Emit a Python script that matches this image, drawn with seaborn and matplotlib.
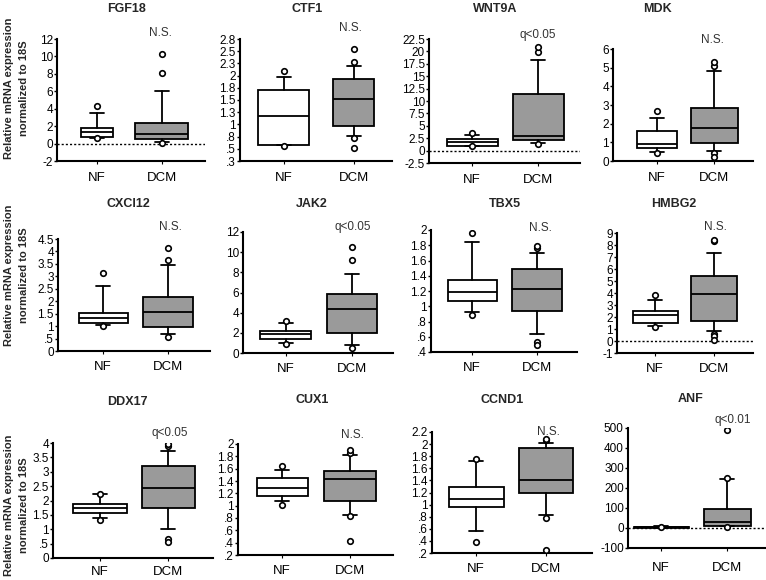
import matplotlib
matplotlib.use("Agg")
import matplotlib.pyplot as plt
import seaborn as sns
import pandas as pd

# ---------------- data ----------------
genes = ["FGF18", "CTF1", "WNT9A", "MDK",
         "CXCl12", "JAK2", "TBX5", "HMBG2",
         "DDX17", "CUX1", "CCND1", "ANF"]
annotations = ["N.S.", "N.S.", "q<0.05", "N.S.",
               "N.S.", "q<0.05", "N.S.", "N.S.",
               "q<0.05", "N.S.", "N.S.", "q<0.01"]
groups = ["NF", "DCM"]

# box summaries (10th pct, Q1, median, Q3, 90th pct)
nf_low = [0.65, 0.57, 0.9, 0.5, 1.05, 0.98, 0.93, 1.28, 1.38, 1.07, 0.57, 1]
nf_q1 = [0.8, 0.58, 0.95, 0.68, 1.14, 1.38, 1.07, 1.5, 1.55, 1.15, 0.96, 2]
nf_med = [1.3, 1.18, 1.76, 0.91, 1.34, 1.9, 1.19, 2.14, 1.73, 1.28, 1.09, 4]
nf_q3 = [1.84, 1.71, 2.4, 1.61, 1.52, 2.2, 1.34, 2.47, 1.88, 1.45, 1.29, 6]
nf_high = [3.5, 1.97, 3.24, 2.29, 2.62, 3.02, 1.84, 3.44, 2.22, 1.58, 1.72, 8]
nf_outliers = [[4.3, 0.6], [2.1, 0.55], [3.6, 0.85], [2.68, 0.41],
               [3.13, 1.0], [3.2, 0.9], [1.96, 0.88], [3.86, 1.14],
               [2.23, 1.32], [1.65, 1.01], [1.75, 0.39], [6]]

dcm_low = [0.2, 0.76, 1.55, 0.55, 0.68, 0.82, 0.63, 0.81, 1.0, 0.85, 0.82, 10]
dcm_q1 = [0.5, 0.97, 2.1, 0.95, 0.95, 2.03, 0.94, 1.64, 1.75, 1.08, 1.2, 12]
dcm_med = [1.1, 1.52, 2.9, 1.79, 1.58, 4.34, 1.22, 3.92, 2.45, 1.43, 1.41, 32]
dcm_q3 = [2.4, 1.94, 11.4, 2.86, 2.17, 5.82, 1.49, 5.44, 3.21, 1.57, 1.93, 95]
dcm_high = [6.0, 2.2, 18.3, 4.84, 3.47, 7.82, 1.70, 7.33, 3.73, 1.82, 2.02, 243]
dcm_outliers = [[8.1, 10.3, 0.05], [2.28, 2.55, 0.72, 0.52], [19.9, 20.9, 1.3],
                [5.1, 5.3, 0.41, 0.23], [3.67, 4.14, 0.58], [9.2, 10.5, 0.5],
                [1.76, 1.79, 0.53, 0.49], [8.3, 8.44, 0.61, 0.39, 0.11],
                [3.91, 3.97, 0.67, 0.56], [1.85, 1.9, 0.84, 0.42],
                [2.06, 2.09, 0.78, 0.25], [251, 490, 7]]

y_ticks = [
    [-2, 0, 2, 4, 6, 8, 10, 12],
    [0.25, 0.5, 0.75, 1, 1.25, 1.5, 1.75, 2, 2.25, 2.5, 2.75],
    [-2.5, 0, 2.5, 5, 7.5, 10, 12.5, 15, 17.5, 20, 22.5],
    [0, 1, 2, 3, 4, 5, 6],
    [0, 0.5, 1, 1.5, 2, 2.5, 3, 3.5, 4, 4.5],
    [0, 2, 4, 6, 8, 10, 12],
    [0.4, 0.6, 0.8, 1, 1.2, 1.4, 1.6, 1.8, 2],
    [-1, 0, 1, 2, 3, 4, 5, 6, 7, 8, 9],
    [0, 0.5, 1, 1.5, 2, 2.5, 3, 3.5, 4],
    [0.2, 0.4, 0.6, 0.8, 1, 1.2, 1.4, 1.6, 1.8, 2],
    [0.2, 0.4, 0.6, 0.8, 1, 1.2, 1.4, 1.6, 1.8, 2, 2.2],
    [-100, 0, 100, 200, 300, 400, 500],
]
y_tick_labels = [
    ["-2", "0", "2", "4", "6", "8", "10", "12"],
    [".3", ".5", ".8", "1", "1.3", "1.5", "1.8", "2", "2.3", "2.5", "2.8"],
    ["-2.5", "0", "2.5", "5", "7.5", "10", "12.5", "15", "17.5", "20", "22.5"],
    ["0", "1", "2", "3", "4", "5", "6"],
    ["0", ".5", "1", "1.5", "2", "2.5", "3", "3.5", "4", "4.5"],
    ["0", "2", "4", "6", "8", "10", "12"],
    [".4", ".6", ".8", "1", "1.2", "1.4", "1.6", "1.8", "2"],
    ["-1", "0", "1", "2", "3", "4", "5", "6", "7", "8", "9"],
    ["0", ".5", "1", "1.5", "2", "2.5", "3", "3.5", "4"],
    [".2", ".4", ".6", ".8", "1", "1.2", "1.4", "1.6", "1.8", "2"],
    [".2", ".4", ".6", ".8", "1", "1.2", "1.4", "1.6", "1.8", "2", "2.2"],
    ["-100", "0", "100", "200", "300", "400", "500"],
]
zero_line = [True, False, True, False, False, False, False, True, False, False, False, True]
y_label = "Relative mRNA expression\nnormalized to 18S"

# ---------------- layout (pixels) ----------------
W, H = 766, 580
# axes: x0, x1, y_top, y_bottom
axes_px = [
    (57, 205, 39, 161), (240, 392, 39, 161), (429, 580, 39, 163), (613, 753, 49, 161),
    (58, 210, 239, 351), (243, 393, 232, 353), (431, 577, 230, 352), (617, 753, 233, 353),
    (53, 213, 443, 558), (238, 393, 444, 555), (432, 592, 432, 553), (628, 765, 428, 548),
]
# box centres and widths: nf_c, nf_w, dcm_c, dcm_w
box_px = [
    (97, 32, 161.5, 53), (283.5, 51, 353.5, 41), (472, 51, 538, 51), (657, 40, 714, 47),
    (103, 49, 168, 50), (286, 51, 352, 50), (472, 49, 537, 50), (655, 45, 714, 46),
    (100, 54, 168, 53), (282, 51, 350, 52), (476, 55, 546, 54), (661, 55, 727, 47),
]
title_px = [(127, 9), (307, 9), (495, 9), (657, 9),
            (128, 204), (312, 204), (505, 204), (674, 204),
            (127, 402), (312, 400), (502, 400), (691, 399)]
annot_px = [(160, 33), (350, 28), (538, 35), (712, 40),
            (170, 227), (353, 227), (540, 228), (715, 227),
            (170, 433), (352, 435), (548, 432), (733, 420)]
ylabel_py = [88, 275, 505]
xtick_pad = [6, 6, 6, 6, 5, 5, 5, 5, 3.5, 5, 5, 8]

sns.set_theme(style="ticks")
plt.rcParams["font.family"] = ["Liberation Sans Narrow", "Liberation Sans", "DejaVu Sans"]

fig = plt.figure(figsize=(W / 100, H / 100), dpi=100)
fig.patch.set_facecolor("white")

box_colors = ["white", "#9a9a9a"]
lw = 1.3

for i, gene in enumerate(genes):
    x0, x1, yt, yb = axes_px[i]
    ax = fig.add_axes([x0 / W, 1 - yb / H, (x1 - x0) / W, (yb - yt) / H])
    nf_c, nf_w, dcm_c, dcm_w = box_px[i]
    s = dcm_c - nf_c
    xlim = (0 - (nf_c - x0) / s, 1 + (x1 - dcm_c) / s)

    stats = [
        dict(whislo=nf_low[i], q1=nf_q1[i], med=nf_med[i], q3=nf_q3[i], whishi=nf_high[i], fliers=[]),
        dict(whislo=dcm_low[i], q1=dcm_q1[i], med=dcm_med[i], q3=dcm_q3[i], whishi=dcm_high[i], fliers=[]),
    ]
    if zero_line[i]:
        ax.axhline(0, color="black", lw=1.0, ls=(0, (1.5, 1.5)), zorder=1)
    bp = ax.bxp(stats, positions=[0, 1], widths=[nf_w / s, dcm_w / s],
                patch_artist=True, showfliers=False,
                boxprops=dict(linewidth=lw, edgecolor="black"),
                medianprops=dict(color="black", linewidth=lw),
                whiskerprops=dict(color="black", linewidth=lw),
                capprops=dict(color="black", linewidth=lw),
                capwidths=[14 / s, 14 / s])
    for patch, c in zip(bp["boxes"], box_colors):
        patch.set_facecolor(c)
        patch.set_zorder(2)

    out = pd.DataFrame({
        "pos": [0] * len(nf_outliers[i]) + [1] * len(dcm_outliers[i]),
        "value": nf_outliers[i] + dcm_outliers[i],
    })
    sns.scatterplot(data=out, x="pos", y="value", ax=ax, marker="o", s=16,
                    facecolor="white", edgecolor="black", linewidth=1.2, zorder=4,
                    legend=False)

    ax.set_xlim(*xlim)
    ax.set_ylim(y_ticks[i][0], y_ticks[i][-1])
    ax.set_yticks(y_ticks[i])
    ax.set_yticklabels(y_tick_labels[i], fontsize=8.5)
    ax.set_xticks([0, 1])
    ax.set_xticklabels(groups, fontsize=9.5, family=["Liberation Sans", "DejaVu Sans"])
    ax.tick_params(axis="y", length=2, width=1, pad=1, colors="black")
    ax.tick_params(axis="x", length=2, width=0.8, pad=xtick_pad[i], colors="black")
    ax.set_xlabel("")
    ax.set_ylabel("")
    ax.set_facecolor("white")
    sns.despine(ax=ax)
    for sp in ["left", "bottom"]:
        ax.spines[sp].set_linewidth(1.5)
        ax.spines[sp].set_color("black")

    tx, ty = title_px[i]
    fig.text(tx / W, 1 - ty / H, gene, ha="center", va="center", fontsize=9,
             fontweight="bold", family=["Liberation Sans", "DejaVu Sans"])
    axx, axy = annot_px[i]
    fig.text(axx / W, 1 - axy / H, annotations[i], ha="center", va="center",
             fontsize=8.5, color="#333333", family=["Liberation Sans", "DejaVu Sans"])

for py in ylabel_py:
    fig.text(16.5 / W, 1 - py / H, y_label, ha="center", va="center", rotation=90,
             fontsize=8, fontweight="bold", linespacing=1.6,
             family=["Liberation Sans", "DejaVu Sans"])

fig.savefig("out.png", dpi=100, facecolor="white")
